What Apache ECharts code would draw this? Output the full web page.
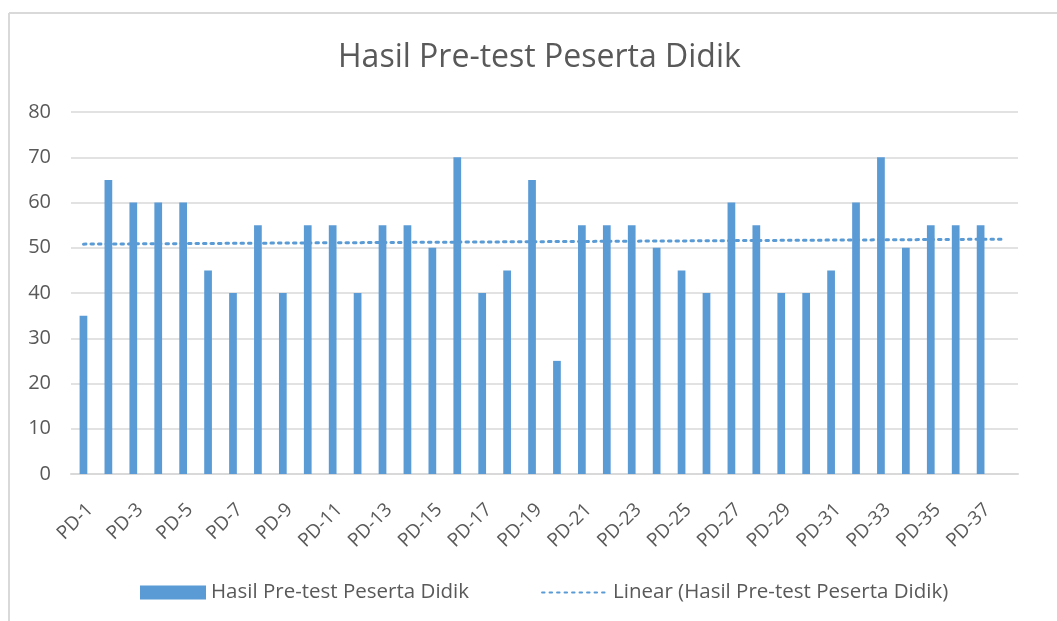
<!DOCTYPE html>
<html>
<head>
<meta charset="utf-8">
<script src="https://cdn.jsdelivr.net/npm/echarts@6/dist/echarts.min.js"></script>
<style>
html,body{margin:0;padding:0;background:#fff;}
#chart{width:1057px;height:621px;}
</style>
</head>
<body>
<div id="chart"></div>
<script>
const categories = ["PD-1","PD-2","PD-3","PD-4","PD-5","PD-6","PD-7","PD-8","PD-9","PD-10",
  "PD-11","PD-12","PD-13","PD-14","PD-15","PD-16","PD-17","PD-18","PD-19","PD-20",
  "PD-21","PD-22","PD-23","PD-24","PD-25","PD-26","PD-27","PD-28","PD-29","PD-30",
  "PD-31","PD-32","PD-33","PD-34","PD-35","PD-36","PD-37",""];
const scores = [35,65,60,60,60,45,40,55,40,55,
  55,40,55,55,50,70,40,45,65,25,
  55,55,55,50,45,40,60,55,40,40,
  45,60,70,50,55,55,55];
const trendEnds = [50.8, 51.9];
const yTicks = [0,10,20,30,40,50,60,70,80];
const seriesName = "Hasil Pre-test Peserta Didik";
const trendName = "Linear (Hasil Pre-test Peserta Didik)";

const trendData = categories.map((c, i) => i === 0 ? trendEnds[0] : (i === categories.length - 1 ? trendEnds[1] : null));

const font = "'Open Sans', 'Noto Sans', sans-serif";
const chart = echarts.init(document.getElementById('chart'));
chart.setOption({
  animation: false,
  backgroundColor: '#fff',
  title: {
    text: "Hasil Pre-test Peserta Didik",
    left: 333, top: 37,
    textStyle: {fontFamily: font, fontSize: 32, fontWeight: 'normal', color: '#595959'}
  },
  legend: {
    bottom: 13, left: 135, itemGap: 72, itemWidth: 66, itemHeight: 14,
    textStyle: {fontFamily: font, fontSize: 20.5, color: '#595959'},
    data: [
      {name: seriesName, icon: 'rect'},
      {name: trendName, itemStyle: {opacity: 0}}
    ]
  },
  grid: {left: 71, right: 39, top: 112, bottom: 147, containLabel: false},
  xAxis: {
    type: 'category', data: categories,
    axisLine: {lineStyle: {color: '#d9d9d9', width: 2}},
    axisTick: {show: false},
    axisLabel: {interval: 1, rotate: 45, verticalAlign: 'top', fontFamily: font, fontSize: 19, color: '#595959', margin: 26}
  },
  yAxis: {
    type: 'value', min: yTicks[0], max: yTicks[yTicks.length - 1], interval: 10,
    axisLine: {show: false}, axisTick: {show: false},
    splitLine: {lineStyle: {color: '#d9d9d9', width: 1.5}},
    axisLabel: {fontFamily: font, fontSize: 20, color: '#595959', margin: 20}
  },
  graphic: [
    {type: 'line', shape: {x1: 9, y1: 13, x2: 1057, y2: 13}, style: {stroke: '#d9d9d9', lineWidth: 2}},
    {type: 'line', shape: {x1: 9, y1: 13, x2: 9, y2: 621}, style: {stroke: '#d9d9d9', lineWidth: 2}}
  ],
  series: [
    {
      name: seriesName, type: 'bar', data: scores, barWidth: '31%',
      itemStyle: {color: '#5b9bd5'}
    },
    {
      name: trendName, type: 'line', data: trendData, connectNulls: true,
      symbol: 'none', z: 5,
      lineStyle: {color: '#5b9bd5', width: 3, type: [2.5, 5], cap: 'round'},
      itemStyle: {color: '#5b9bd5'}
    }
  ]
});
</script>
</body>
</html>
